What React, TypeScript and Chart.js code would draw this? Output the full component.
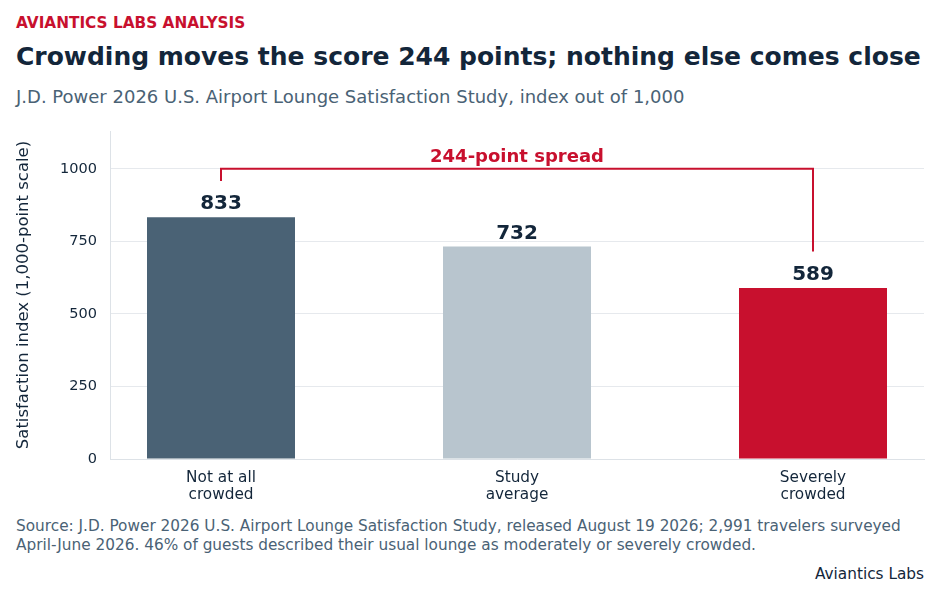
import React, { useEffect, useRef } from 'react';
import { Chart, registerables } from 'chart.js';

Chart.register(...registerables);

// chart data
const categories = [
  ['Not at all', 'crowded'],
  ['Study', 'average'],
  ['Severely', 'crowded'],
];
const scores = [833, 732, 589];
const barColors = ['#4a6275', '#b8c5ce', '#c8102e'];
const yTicks = [0, 250, 500, 750, 1000];
const bracketLevel = 1000;
// value where each bracket leg stops (first bar, last bar)
const bracketLegEnds = [958, 715];

const RED = '#c8102e';
const NAVY = '#13263a';
const SLATE = '#4a6275';
const FONT = "'DejaVu Sans', sans-serif";

const labelsAndBracket = {
  id: 'labelsAndBracket',
  afterDatasetsDraw(chart: any) {
    const { ctx, scales } = chart;
    const x = scales.x;
    const y = scales.y;
    ctx.save();

    // value labels over the bars
    ctx.font = `bold 20px ${FONT}`;
    ctx.fillStyle = NAVY;
    ctx.textAlign = 'center';
    ctx.textBaseline = 'alphabetic';
    scores.forEach((v, i) => {
      ctx.fillText(String(v), x.getPixelForValue(i), y.getPixelForValue(v) - 8);
    });

    // bracket between first and last bar
    const last = scores.length - 1;
    const x0 = x.getPixelForValue(0);
    const x1 = x.getPixelForValue(last);
    const yTop = y.getPixelForValue(bracketLevel);
    ctx.strokeStyle = RED;
    ctx.lineWidth = 2;
    ctx.beginPath();
    ctx.moveTo(x0, y.getPixelForValue(bracketLegEnds[0]));
    ctx.lineTo(x0, yTop);
    ctx.lineTo(x1, yTop);
    ctx.lineTo(x1, y.getPixelForValue(bracketLegEnds[1]));
    ctx.stroke();

    ctx.font = `bold 18px ${FONT}`;
    ctx.fillStyle = RED;
    ctx.fillText(`${scores[0] - scores[last]}-point spread`, (x0 + x1) / 2, yTop - 7);
    ctx.restore();
  },
};

const BarChart: React.FC = () => {
  const chartRef = useRef<HTMLCanvasElement | null>(null);
  const chartInstanceRef = useRef<Chart | null>(null);

  useEffect(() => {
    if (!chartRef.current) return;
    const ctx = chartRef.current.getContext('2d');
    if (!ctx) return;
    if (chartInstanceRef.current) chartInstanceRef.current.destroy();

    Chart.defaults.font.family = FONT;

    chartInstanceRef.current = new Chart(ctx, {
      type: 'bar',
      data: {
        datasets: [
          {
            data: scores.map((v, i) => ({ x: i, y: v })),
            backgroundColor: barColors,
            borderWidth: 0,
            barPercentage: 0.5,
            categoryPercentage: 1,
          },
        ],
      },
      options: {
        animation: false,
        responsive: true,
        maintainAspectRatio: false,
        layout: { padding: { top: 11, right: 16, left: 0, bottom: 0 } },
        plugins: {
          legend: { display: false },
          tooltip: { enabled: false },
        },
        scales: {
          x: {
            type: 'linear',
            offset: false,
            min: -0.375,
            max: scores.length - 1 + 0.375,
            afterBuildTicks: (scale: any) => {
              scale.ticks = categories.map((_, i) => ({ value: i }));
            },
            afterFit: (scale: any) => {
              scale.height = 51;
              scale.paddingLeft = 0;
              scale.paddingRight = 0;
            },
            grid: { display: true, drawOnChartArea: false, drawTicks: false },
            border: { display: true, color: '#dde2e7', width: 1 },
            ticks: {
              padding: 11,
              color: NAVY,
              font: { size: 15.3, lineHeight: 1.1 },
              maxRotation: 0,
              callback: (value: any) => categories[value] ?? '',
            },
          },
          y: {
            min: 0,
            max: 1130,
            afterBuildTicks: (scale: any) => {
              scale.ticks = yTicks.map((v) => ({ value: v }));
            },
            afterFit: (scale: any) => {
              scale.width = 110;
              scale.paddingTop = 0;
              scale.paddingBottom = 0;
            },
            grid: { color: '#e6e9ed', drawTicks: false },
            border: { display: true, color: '#dde2e7', width: 1 },
            ticks: {
              padding: 13,
              color: NAVY,
              font: { size: 14.5 },
              callback: (value: any) => String(value),
            },
            title: {
              display: true,
              text: 'Satisfaction index (1,000-point scale)',
              color: NAVY,
              font: { size: 16.5 },
              padding: { top: 14, bottom: 0 },
            },
          },
        },
      },
      plugins: [labelsAndBracket],
    } as any);

    return () => {
      if (chartInstanceRef.current) {
        chartInstanceRef.current.destroy();
        chartInstanceRef.current = null;
      }
    };
  }, []);

  return <canvas ref={chartRef}></canvas>;
};

const text = (top: number, size: number, extra: React.CSSProperties = {}): React.CSSProperties => ({
  position: 'absolute',
  top,
  left: 16,
  fontSize: size,
  lineHeight: 1,
  whiteSpace: 'nowrap',
  ...extra,
});

const App: React.FC = () => {
  useEffect(() => {
    document.body.style.margin = '0';
  }, []);

  return (
    <div
      style={{
        position: 'relative',
        width: 940,
        height: 600,
        background: '#ffffff',
        fontFamily: FONT,
        overflow: 'hidden',
      }}
    >
      <div style={text(16, 15.3, { color: RED, fontWeight: 'bold' })}>AVIANTICS LABS ANALYSIS</div>
      <div style={text(44, 25, { color: NAVY, fontWeight: 'bold' })}>
        Crowding moves the score 244 points; nothing else comes close
      </div>
      <div style={text(88, 18, { color: SLATE })}>
        J.D. Power 2026 U.S. Airport Lounge Satisfaction Study, index out of 1,000
      </div>
      <div style={{ position: 'absolute', left: 0, top: 120, width: 940, height: 390 }}>
        <BarChart />
      </div>
      <div style={text(517, 15.3, { color: SLATE, lineHeight: '19px' })}>
        Source: J.D. Power 2026 U.S. Airport Lounge Satisfaction Study, released August 19 2026; 2,991 travelers surveyed
        <br />
        April-June 2026. 46% of guests described their usual lounge as moderately or severely crowded.
      </div>
      <div style={text(567, 15.3, { color: NAVY, left: 'auto', right: 16 })}>Aviantics Labs</div>
    </div>
  );
};

export default App;
